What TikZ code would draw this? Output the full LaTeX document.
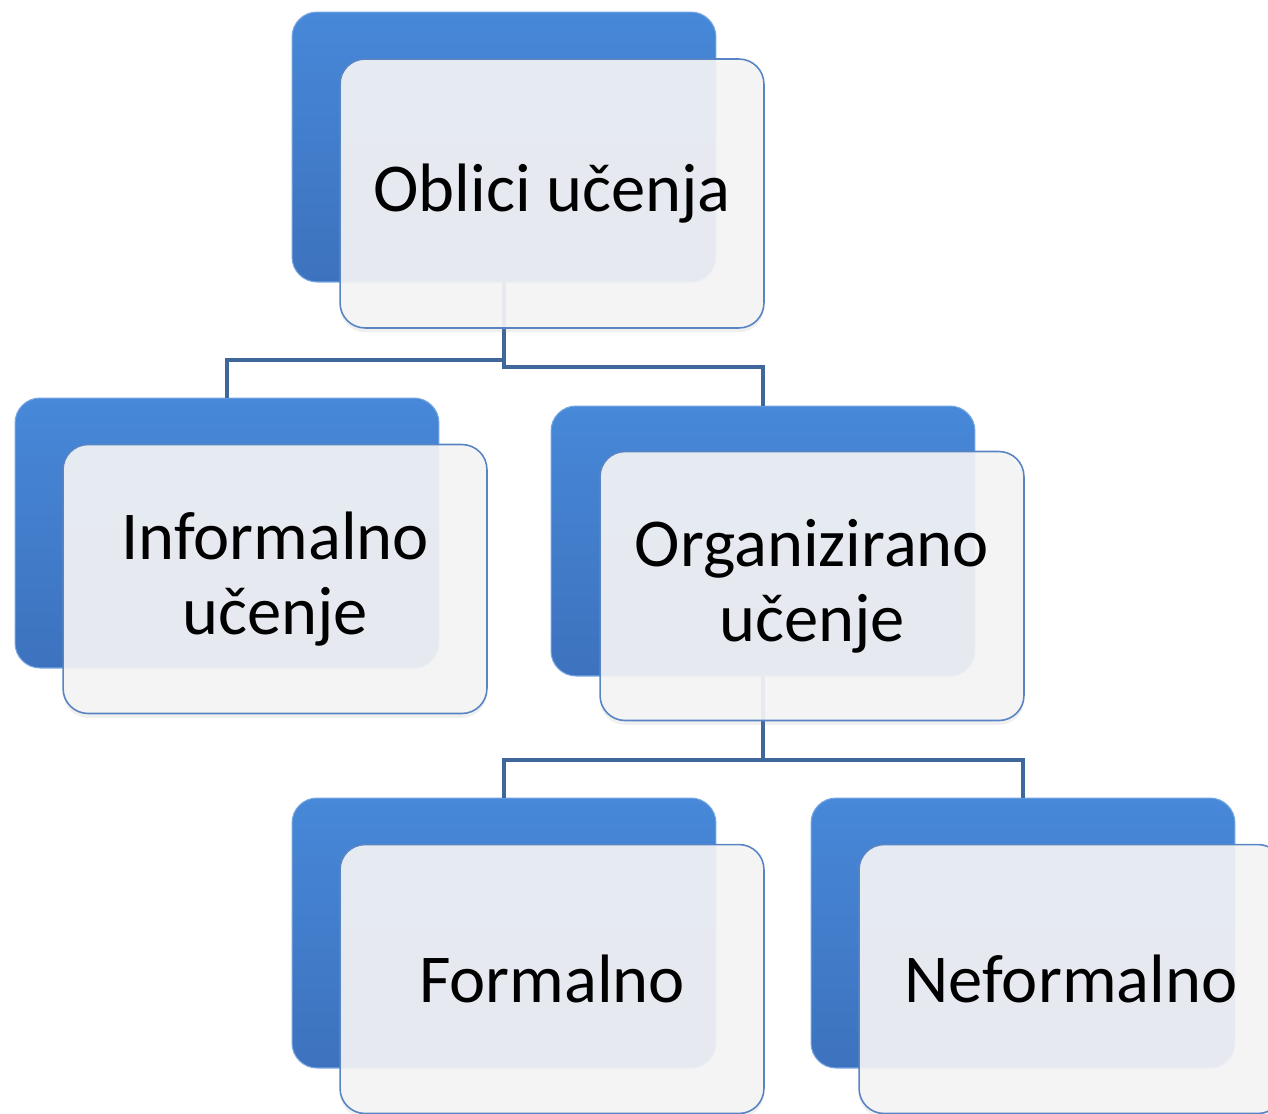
\documentclass[tikz,border=0pt]{standalone}
\usepackage{fontspec}
\setmainfont{Carlito}
\usetikzlibrary{shadows}
\definecolor{linkblue}{RGB}{63,103,155}
\definecolor{boxtop}{RGB}{71,136,216}
\definecolor{boxbot}{RGB}{61,114,190}
\definecolor{frontfill}{RGB}{244,244,245}
\definecolor{frontline}{RGB}{88,132,196}
\begin{document}
\begin{tikzpicture}[x=0.02cm,y=-0.02cm,
    backbox/.style={rectangle, rounded corners=0.5cm, minimum width=8.48cm,
        minimum height=5.4cm, outer sep=0pt, top color=boxtop, bottom color=boxbot,
        draw=boxtop!75!white, line width=0.6pt},
    frontbox/.style={rectangle, rounded corners=0.5cm, minimum width=8.48cm,
        minimum height=5.38cm, outer sep=0pt, fill=frontfill, fill opacity=0.92,
        text opacity=1, draw=frontline, line width=0.9pt, align=center,
        font=\fontsize{39}{42.7}\selectfont,
        drop shadow={shadow xshift=0pt, shadow yshift=-2.5pt, opacity=0.12}},
    link/.style={draw=linkblue, line width=2.3pt}]
    \path[use as bounding box, clip] (0,0) rectangle (1268,1113);
    \node[backbox] (oblicib) at (504,147) {};
    \node[backbox] (informalnob) at (227,533) {};
    \node[backbox] (organiziranob) at (763,541) {};
    \node[backbox] (formalnob) at (504,933) {};
    \node[backbox] (neformalnob) at (1023,933) {};
    \draw[link] (oblicib.south) -- ++(0,78) -| (informalnob.north);
    \draw[link] (oblicib.south) -- ++(0,85) -| (organiziranob.north);
    \draw[link] (organiziranob.south) -- ++(0,84) -| (formalnob.north);
    \draw[link] (organiziranob.south) -- ++(0,84) -| (neformalnob.north);
    \node[frontbox] (oblici) at (552,193.5) {Oblici učenja};
    \node[frontbox] (informalno) at (275,579) {Informalno\\učenje};
    \node[frontbox] (organizirano) at (812,586) {Organizirano\\učenje};
    \node[frontbox] (formalno) at (552,979) {Formalno};
    \node[frontbox] (neformalno) at (1071,979) {Neformalno};
\end{tikzpicture}
\end{document}
